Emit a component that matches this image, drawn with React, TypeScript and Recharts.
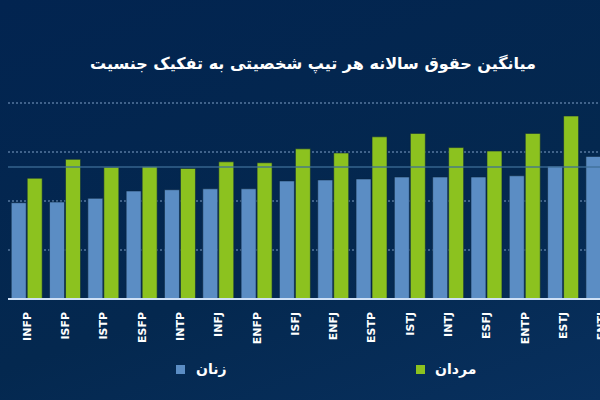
import React from 'react';
import { BarChart, Bar, XAxis, YAxis, CartesianGrid, Legend, ReferenceLine } from 'recharts';

const types = ['INFP', 'ISFP', 'ISTP', 'ESFP', 'INTP', 'INFJ', 'ENFP', 'ISFJ', 'ENFJ', 'ESTP', 'ISTJ', 'INTJ', 'ESFJ', 'ENTP', 'ESTJ', 'ENTJ'];
const women = [39.3, 39.6, 41.1, 44.1, 44.6, 45.0, 45.0, 48.2, 48.6, 49.0, 49.8, 49.8, 49.8, 50.3, 54.2, 58.2];
const men = [49.3, 57.0, 53.8, 54.0, 53.3, 56.0, 55.6, 61.3, 59.6, 66.2, 67.6, 61.8, 60.4, 67.6, 74.7, 79.0];
const yTicks = [0, 20, 40, 60, 80];
const average = 53.9;

const data = types.map((t, i) => ({ type: t, women: women[i], men: men[i] }));

const BLUE = '#5b8dc4';
const GREEN = '#8cc21f';
const FONT = '"DejaVu Sans", "Noto Sans", sans-serif';

const TypeTick = (props: any) => {
  const { x, y, payload } = props;
  return (
    <text
      x={x}
      y={y}
      transform={`rotate(-90, ${x}, ${y})`}
      textAnchor="end"
      dominantBaseline="central"
      fill="#ffffff"
      fontSize={11}
      fontWeight="bold"
      fontFamily={FONT}
    >
      {payload.value}
    </text>
  );
};

const GenderLegend = () => (
  <div style={{ position: 'relative', height: 20, fontFamily: FONT, color: '#fff', fontWeight: 'bold', fontSize: 14 }}>
    <div style={{ position: 'absolute', left: 176, top: 5, width: 9, height: 9, background: BLUE }} />
    <div style={{ position: 'absolute', left: 196, top: 0, lineHeight: '18px' }} dir="rtl">زنان</div>
    <div style={{ position: 'absolute', left: 416, top: 5, width: 9, height: 9, background: GREEN }} />
    <div style={{ position: 'absolute', left: 435, top: 0, lineHeight: '18px' }} dir="rtl">مردان</div>
  </div>
);

export default function App() {
  return (
    <div style={{ position: 'fixed', left: 0, top: 0, width: 600, height: 400, overflow: 'hidden', background: 'linear-gradient(160deg, #022450 0%, #04284f 60%, #08305e 100%)' }}>
      <div
        dir="rtl"
        style={{ position: 'absolute', left: 0, width: 626, top: 49, textAlign: 'center', color: '#fff', fontWeight: 'bold', fontSize: 16, fontFamily: FONT, lineHeight: '30px', zIndex: 2 }}
      >
        میانگین حقوق سالانه هر تیپ شخصیتی به تفکیک جنسیت
      </div>
      <BarChart
        width={630}
        height={400}
        data={data}
        margin={{ top: 103, right: 9, left: 8, bottom: 41 }}
        barCategoryGap="8.4%"
        barGap={1}
      >
        <CartesianGrid vertical={false} stroke="#7f9fc6" strokeDasharray="2 2" strokeWidth={1} />
        <YAxis hide domain={[0, 80]} ticks={yTicks} />
        <XAxis
          dataKey="type"
          interval={0}
          height={60}
          tickLine={false}
          tickSize={10}
          tickMargin={3}
          axisLine={{ stroke: '#cfe0f5', strokeWidth: 2 }}
          tick={<TypeTick />}
        />
        <Legend verticalAlign="middle" content={<GenderLegend />} wrapperStyle={{ top: 360, left: 0, width: 600 }} />
        <Bar dataKey="women" name="زنان" fill={BLUE} stroke="#0b2740" strokeWidth={0.6} isAnimationActive={false} />
        <Bar dataKey="men" name="مردان" fill={GREEN} stroke="#0b2740" strokeWidth={0.6} isAnimationActive={false} />
        <ReferenceLine y={average} stroke="#3d6f96" strokeWidth={1.5} strokeOpacity={0.85} />
      </BarChart>
    </div>
  );
}
